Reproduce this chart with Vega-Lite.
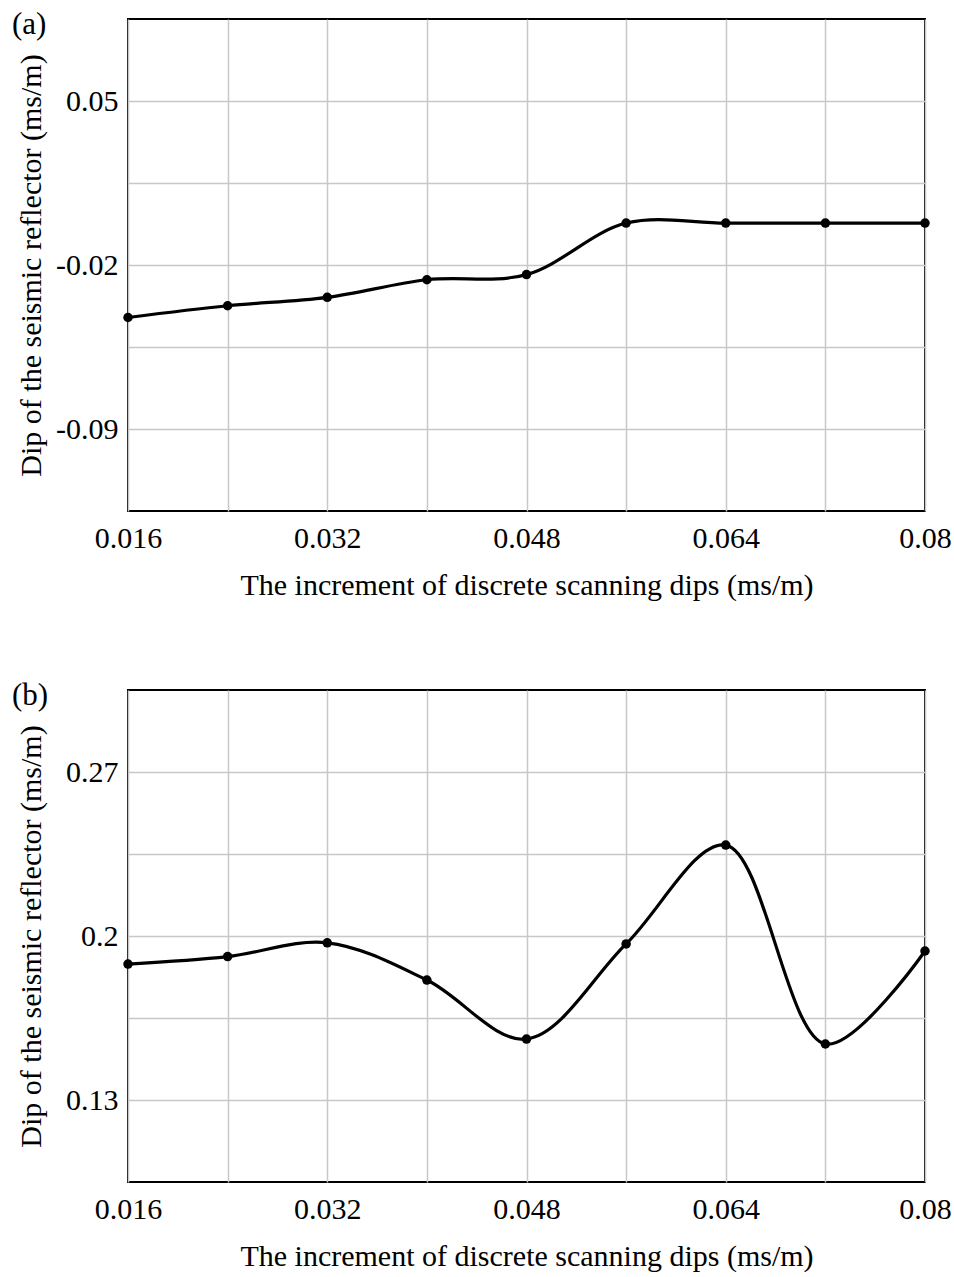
{
  "$schema": "https://vega.github.io/schema/vega-lite/v6.json",
  "padding": {"left": 10, "top": 8, "right": 20, "bottom": 5},
  "background": "white",
  "spacing": 78,
  "config": {
    "font": "Liberation Serif",
    "view": {"stroke": "black", "strokeWidth": 2},
    "axis": {
      "labelFont": "Liberation Serif",
      "titleFont": "Liberation Serif",
      "labelFontSize": 30,
      "titleFontSize": 30,
      "titleFontWeight": "normal",
      "labelColor": "black",
      "titleColor": "black",
      "ticks": false,
      "domain": false,
      "gridColor": "#c8c8c8",
      "gridWidth": 1.5,
      "gridOpacity": 1
    },
    "title": {"font": "Liberation Serif", "fontSize": 31, "fontWeight": "normal", "color": "black"}
  },
  "datasets": {
    "a": [
      {"inc": 0.016, "dip": -0.0424},
      {"inc": 0.024, "dip": -0.0374},
      {"inc": 0.032, "dip": -0.0338},
      {"inc": 0.040, "dip": -0.0263},
      {"inc": 0.048, "dip": -0.0241},
      {"inc": 0.056, "dip": -0.0021},
      {"inc": 0.064, "dip": -0.0021},
      {"inc": 0.072, "dip": -0.0021},
      {"inc": 0.080, "dip": -0.0021}
    ],
    "b": [
      {"inc": 0.016, "dip": 0.188},
      {"inc": 0.024, "dip": 0.1912},
      {"inc": 0.032, "dip": 0.1971},
      {"inc": 0.040, "dip": 0.1812},
      {"inc": 0.048, "dip": 0.156},
      {"inc": 0.056, "dip": 0.1966},
      {"inc": 0.064, "dip": 0.2388},
      {"inc": 0.072, "dip": 0.1539},
      {"inc": 0.080, "dip": 0.1936}
    ]
  },
  "vconcat": [
    {
      "width": 797,
      "height": 492,
      "title": {"text": "(a)", "anchor": "start", "frame": "bounds", "offset": -22, "dx": -4},
      "data": {"name": "a"},
      "encoding": {
        "x": {
          "field": "inc", "type": "quantitative",
          "scale": {"domain": [0.016, 0.08], "nice": false, "zero": false},
          "axis": {
            "title": "The increment of discrete scanning dips (ms/m)",
            "values": [0.016, 0.024, 0.032, 0.040, 0.048, 0.056, 0.064, 0.072, 0.080],
            "labelExpr": "round(datum.index*8)%2==0 ? format(datum.value, '.3~f') : ''",
            "labelPadding": 12, "titlePadding": 17, "labelFlush": false
          }
        },
        "y": {
          "field": "dip", "type": "quantitative",
          "scale": {"domain": [-0.125, 0.085], "nice": false, "zero": false},
          "axis": {
            "title": "Dip of the seismic reflector (ms/m)",
            "values": [-0.09, -0.055, -0.02, 0.015, 0.05],
            "labelExpr": "round(datum.index*4)%2==0 ? replace(format(datum.value, '.2f'), '\u2212', '-') : ''",
            "labelPadding": 10, "titleX": -82
          }
        }
      },
      "layer": [
        {"mark": {"type": "line", "interpolate": "catmull-rom", "color": "black", "strokeWidth": 3.2}},
        {"mark": {"type": "point", "filled": true, "color": "black", "size": 90, "opacity": 1}}
      ]
    },
    {
      "width": 797,
      "height": 492,
      "title": {"text": "(b)", "anchor": "start", "frame": "bounds", "offset": -22, "dx": -4},
      "data": {"name": "b"},
      "encoding": {
        "x": {
          "field": "inc", "type": "quantitative",
          "scale": {"domain": [0.016, 0.08], "nice": false, "zero": false},
          "axis": {
            "title": "The increment of discrete scanning dips (ms/m)",
            "values": [0.016, 0.024, 0.032, 0.040, 0.048, 0.056, 0.064, 0.072, 0.080],
            "labelExpr": "round(datum.index*8)%2==0 ? format(datum.value, '.3~f') : ''",
            "labelPadding": 12, "titlePadding": 17, "labelFlush": false
          }
        },
        "y": {
          "field": "dip", "type": "quantitative",
          "scale": {"domain": [0.095, 0.305], "nice": false, "zero": false},
          "axis": {
            "title": "Dip of the seismic reflector (ms/m)",
            "values": [0.13, 0.165, 0.2, 0.235, 0.27],
            "labelExpr": "round(datum.index*4)%2==0 ? format(datum.value, '.2~f') : ''",
            "labelPadding": 10, "titleX": -82
          }
        }
      },
      "layer": [
        {"mark": {"type": "line", "interpolate": "catmull-rom", "color": "black", "strokeWidth": 3.2}},
        {"mark": {"type": "point", "filled": true, "color": "black", "size": 90, "opacity": 1}}
      ]
    }
  ]
}
